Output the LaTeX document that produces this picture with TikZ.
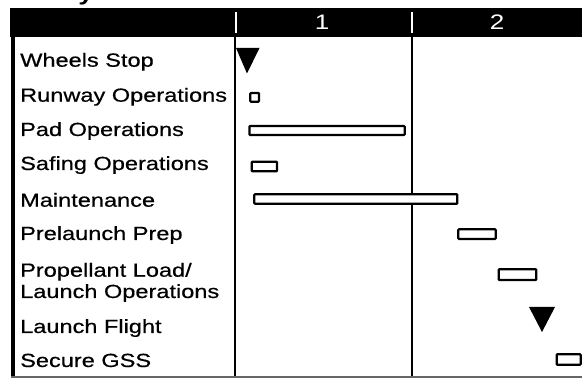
\documentclass[tikz,border=0pt]{standalone}
\usepackage{fontspec}
\setmainfont[FakeStretch=1.24]{Liberation Sans}
\newfontfamily\lblfont[FakeStretch=1.24,FakeBold=0.6]{Liberation Sans}
\begin{document}
\begin{tikzpicture}[x=1pt,y=-1pt,
  lbl/.style={anchor=base west, inner sep=0pt, font=\lblfont\fontsize{19}{21.3}\selectfont},
  hdr/.style={text=white, inner sep=0pt, font=\fontsize{21}{21}\selectfont},
  bar/.style={draw=black, line width=2.2pt, fill=white, rounded corners=0.8pt},
  milestone/.style={fill=black},
  divider/.style={line width=2.5pt}]
\useasboundingbox (0,0) rectangle (582,379);
\clip (0,0) rectangle (582,379);
% cut-off title fragment
\node[anchor=base, inner sep=0pt, font=\fontsize{22}{22}\bfseries\selectfont] (title) at (86,0.5) {y};
% header band
\fill (10,8) rectangle (582,37);
\draw[white, line width=2pt] (236,12) -- (236,33);
\draw[white, line width=2pt] (412,12) -- (412,33);
\node[hdr] (h1) at (322,22) {1};
\node[hdr] (h2) at (497,22) {2};
% frame
\draw[line width=4pt] (13,36) -- (13,378);
\draw[divider] (235,36) -- (235,377);
\draw[divider] (412,36) -- (412,377);
\draw[black!60, line width=1.5pt] (11,377) -- (582,377);
% labels
\node[lbl] (l1) at (20,66.7) {Wheels Stop};
\node[lbl] (l2) at (20,101.7) {Runway Operations};
\node[lbl] (l3) at (20,136) {Pad Operations};
\node[lbl] (l4) at (20,170) {Safing Operations};
\node[lbl] (l5) at (20,206.7) {Maintenance};
\node[lbl] (l6) at (20,240) {Prelaunch Prep};
\node[lbl] (l7a) at (20,276.7) {Propellant Load/};
\node[lbl] (l7b) at (20,298) {Launch Operations};
\node[lbl] (l8) at (20,333) {Launch Flight};
\node[lbl] (l9) at (20,367) {Secure GSS};
% milestones
\fill[milestone] (236,48) -- (259.5,48) -- (247,73.5) -- cycle;
\fill[milestone] (529,307) -- (555,307) -- (542,332) -- cycle;
% bars
\draw[bar] (250.3,93) rectangle (259,101.7);
\draw[bar] (249.5,126) rectangle (404.7,135);
\draw[bar] (251.7,161.7) rectangle (277,171.3);
\draw[bar] (254.3,194.3) rectangle (457.3,203.7);
\draw[bar] (458.3,229.3) rectangle (495.7,239);
\draw[bar] (498.7,269.3) rectangle (536.3,280);
\draw[bar] (556.7,354.3) rectangle (580.7,364.7);
\end{tikzpicture}
\end{document}
